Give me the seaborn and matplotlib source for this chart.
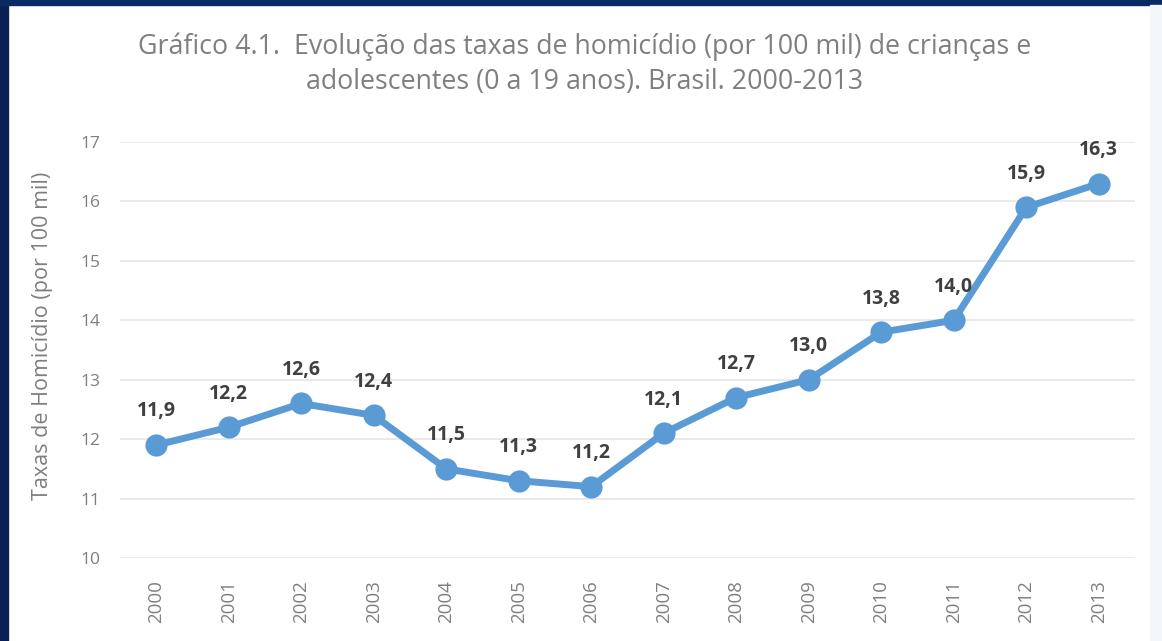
import matplotlib
matplotlib.use("Agg")
import matplotlib.pyplot as plt
import matplotlib.patches as mpatches
import seaborn as sns
import pandas as pd

anos = ["2000", "2001", "2002", "2003", "2004", "2005", "2006",
        "2007", "2008", "2009", "2010", "2011", "2012", "2013"]
taxas = [11.9, 12.2, 12.6, 12.4, 11.5, 11.3, 11.2,
         12.1, 12.7, 13.0, 13.8, 14.0, 15.9, 16.3]
yticks = [10, 11, 12, 13, 14, 15, 16, 17]

sns.set_theme(style="white")
plt.rcParams["font.family"] = ["Open Sans", "DejaVu Sans"]

df = pd.DataFrame({"ano": anos, "taxa": taxas})

fig = plt.figure(figsize=(11.62, 6.41), dpi=100)
fig.patch.set_facecolor("white")

# navy frame along left and top edges, faint edge on the right
fig.patches.append(mpatches.Rectangle((0, 0), 8 / 1162, 1, transform=fig.transFigure,
                                      color="#0b1f57", zorder=0))
fig.patches.append(mpatches.Rectangle((0, 1 - 5 / 641), 1, 5 / 641, transform=fig.transFigure,
                                      color="#0b2a63", zorder=0))
fig.patches.append(mpatches.Rectangle((1150 / 1162, 0), 12 / 1162, 1 - 5 / 641,
                                      transform=fig.transFigure, color="#f3f7fb", zorder=0))

ax = fig.add_axes([120 / 1162, 1 - 558 / 641, (1135 - 120) / 1162, (558 - 142) / 641])
ax.set_facecolor("white")

sns.lineplot(data=df, x="ano", y="taxa", ax=ax, color="#5b9bd5", linewidth=5,
             marker="o", markersize=16, markeredgewidth=0, sort=False)

ax.set_xlim(-0.5, len(anos) - 0.5)
ax.set_ylim(10, 17)
ax.set_yticks(yticks)
ax.set_yticklabels([str(t) for t in yticks], fontsize=12.5, color="#7f7f7f")
ax.tick_params(axis="x", labelrotation=90, labelsize=13.5, labelcolor="#7f7f7f", pad=10)
ax.tick_params(axis="y", pad=8)
ax.grid(axis="y", color="#e6e6e6", linewidth=1.2)
for s in ax.spines.values():
    s.set_visible(False)
ax.set_xlabel("")
ax.set_ylabel("Taxas de Homicídio (por 100 mil)", fontsize=15.5, color="#7f7f7f")
ax.yaxis.set_label_coords(-0.066, 0.535)

for i, v in enumerate(taxas):
    ax.annotate(f"{v:.1f}".replace(".", ","), (i, v), xytext=(0, 17),
                textcoords="offset points", ha="center", va="bottom",
                fontsize=14, fontweight="bold", color="#404040")

fig.text(585 / 1162, 1 - 64 / 641,
         "Gráfico 4.1.  Evolução das taxas de homicídio (por 100 mil) de crianças e\n"
         "adolescentes (0 a 19 anos). Brasil. 2000-2013",
         ha="center", va="center", fontsize=19.3, color="#7f7f7f", linespacing=1.35)

fig.savefig("out.png", dpi=100)
